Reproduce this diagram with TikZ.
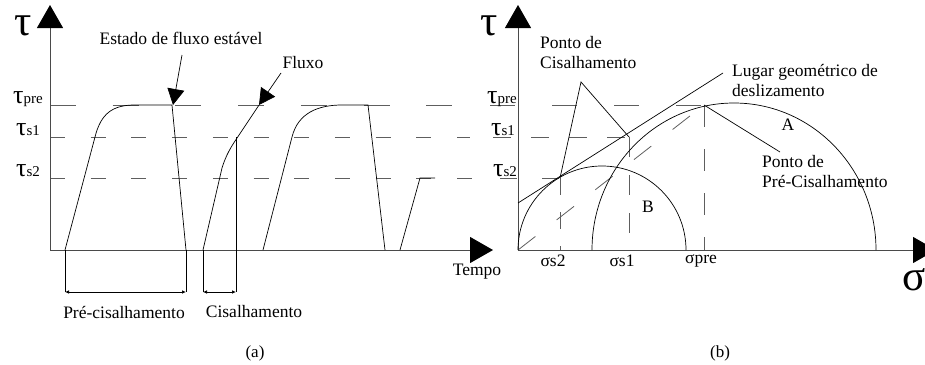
\documentclass[tikz,border=0pt]{standalone}
\usepackage{fontspec}
\setmainfont{Liberation Serif}
\usetikzlibrary{arrows.meta}
\definecolor{ink}{HTML}{000000}
\definecolor{axisgray}{HTML}{4A4A4A}
\definecolor{dashgray}{HTML}{5E5E5E}
\newcommand{\taulvl}[1]{{\fontsize{26}{28}\selectfont τ}{\fontsize{15}{17}\selectfont #1}}

\begin{document}
\begin{tikzpicture}[x=1pt, y=-1pt,
    axis/.style={draw=axisgray, line width=0.9pt, -{Triangle[length=23pt,width=26pt,color=ink]}},
    curve/.style={draw=ink, line width=0.7pt},
    ptr/.style={draw=ink, line width=0.7pt, -{Triangle[length=16pt,width=17pt]}},
    span/.style={draw=ink, line width=0.7pt, {Latex[length=4pt,width=3.5pt]}-{Latex[length=4pt,width=3.5pt]}},
    lvlpre/.style={draw=dashgray, line width=0.8pt, dash pattern=on 26pt off 36.7pt},
    lvl/.style={draw=dashgray, line width=0.8pt, dash pattern=on 15pt off 25.7pt},
    guide/.style={draw=dashgray, line width=0.8pt, dash pattern=on 20pt off 18pt},
    lbl/.style={font=\fontsize{17.5}{20}\selectfont, inner sep=1pt},
    note/.style={lbl, align=left, anchor=west},
    big/.style={font=\fontsize{43}{44}\selectfont, inner sep=0pt},
    caption/.style={font=\fontsize{17}{19}\selectfont, inner sep=1pt},
  ]
  \useasboundingbox (0,0) rectangle (925,364);

  %% (a) tau against time
  \coordinate (oa) at (50,250);
  \draw[lvlpre] (50,105) -- (453,105);
  \draw[lvl] (50,137) -- (470,137);
  \draw[lvl] (50,178) -- (480,178);
  \draw[axis] (oa) -- (50,5);
  \draw[axis] (oa) -- (493,250);
  \node[big] (taua) at (23,26) {τ};
  \node[lbl] (tprea) at (28,99) {\taulvl{pre}};
  \node[lbl] (ts1a) at (28,130) {\taulvl{s1}};
  \node[lbl] (ts2a) at (28,171) {\taulvl{s2}};
  \node[lbl] (tempo) at (477,272) {Tempo};

  % loading cycles
  \draw[curve] (65,250) -- (95,137) .. controls (101,113) and (113,105) .. (135,105) -- (172,105) -- (186,250);
  \draw[curve] (203,250) -- (222,168) .. controls (226,155) and (231,147) .. (237,138) -- (259,105);
  \draw[curve] (263,250) -- (292,137) .. controls (298,113) and (318,105) .. (342,105) -- (368,105) -- (385,250);
  \draw[curve] (400,250) -- (420,178) -- (435,178);

  \node[lbl] (estado) at (181,38) {Estado de fluxo estável};
  \node[lbl] (fluxo) at (303,63) {Fluxo};
  \coordinate (est0) at (182,55);
  \coordinate (est1) at (173,105);
  \coordinate (flx0) at (281,73);
  \coordinate (flx1) at (259,105);
  \draw[ptr] (est0) -- (est1);
  \draw[ptr] (flx0) -- (flx1);

  % phase brackets
  \draw[curve] (65,250) -- (65,292);
  \draw[curve] (186,250) -- (186,292);
  \draw[curve] (203,250) -- (203,292);
  \draw[curve] (236,137) -- (236,292);
  \draw[span] (65,292) -- (186,292);
  \draw[span] (203,292) -- (236,292);
  \node[lbl] (precis) at (124,312) {Pré-cisalhamento};
  \node[lbl] (cis) at (254,312) {Cisalhamento};
  \node[caption] (capa) at (255,353) {(a)};

  %% (b) Mohr plane
  \coordinate (ob) at (518,250);
  \coordinate (ps2) at (560,178);
  \coordinate (ps1) at (629,137);
  \coordinate (ppre) at (704,105);
  \draw[draw=dashgray, line width=0.8pt, dash pattern=on 25pt off 37pt] (490,105) -- (ppre);
  \draw[draw=dashgray, line width=0.8pt, dash pattern=on 18pt off 20pt] (493,137) -- (ps1);
  \draw[draw=dashgray, line width=0.8pt, dash pattern=on 17pt off 25pt] (500,178) -- (ps2);
  \draw[guide, dash pattern=on 17pt off 17pt] (ps2) -- (560,250);
  \draw[guide] (ps1) -- (629,250);
  \draw[guide, dash pattern=on 22pt off 22pt] (ppre) -- (704,250);
  \draw[guide, dash pattern=on 22pt off 27pt] (ob) -- (ppre);
  \draw[axis] (ob) -- (518,5);
  \draw[axis] (ob) -- (936,250);
  \node[big] (taub) at (489,26) {τ};
  \node[big] (sigma) at (914,280) {σ};
  \node[lbl] (tpreb) at (502,99) {\taulvl{pre}};
  \node[lbl] (ts1b) at (503,130) {\taulvl{s1}};
  \node[lbl] (ts2b) at (505,171) {\taulvl{s2}};
  \node[lbl] (ss2) at (553,261) {σs2};
  \node[lbl] (ss1) at (622,261) {σs1};
  \node[lbl] (spre) at (701,261) {σpre};

  % Mohr circles and the slip locus
  \draw[curve] (518,250) arc[start angle=180, end angle=0, radius=84pt];
  \draw[curve] (592,250) arc[start angle=180, end angle=0, x radius=142pt, y radius=147pt];
  \draw[curve] (518,203) -- (723,73);
  \node[lbl] (circa) at (788,125) {A};
  \node[lbl] (circb) at (648,207) {B};

  \node[note] (pcis) at (539,53) {Ponto de\\Cisalhamento};
  \node[note] (lugar) at (731,80) {Lugar geométrico de\\deslizamento};
  \node[note] (ppcis) at (761,172) {Ponto de\\Pré-Cisalhamento};
  \coordinate (apex) at (581,82);
  \coordinate (pp1) at (780,152);
  \draw[curve] (ps2) -- (apex) -- (ps1);
  \draw[curve] (ppre) -- (pp1);
  \node[caption] (capb) at (720,353) {(b)};
\end{tikzpicture}
\end{document}
